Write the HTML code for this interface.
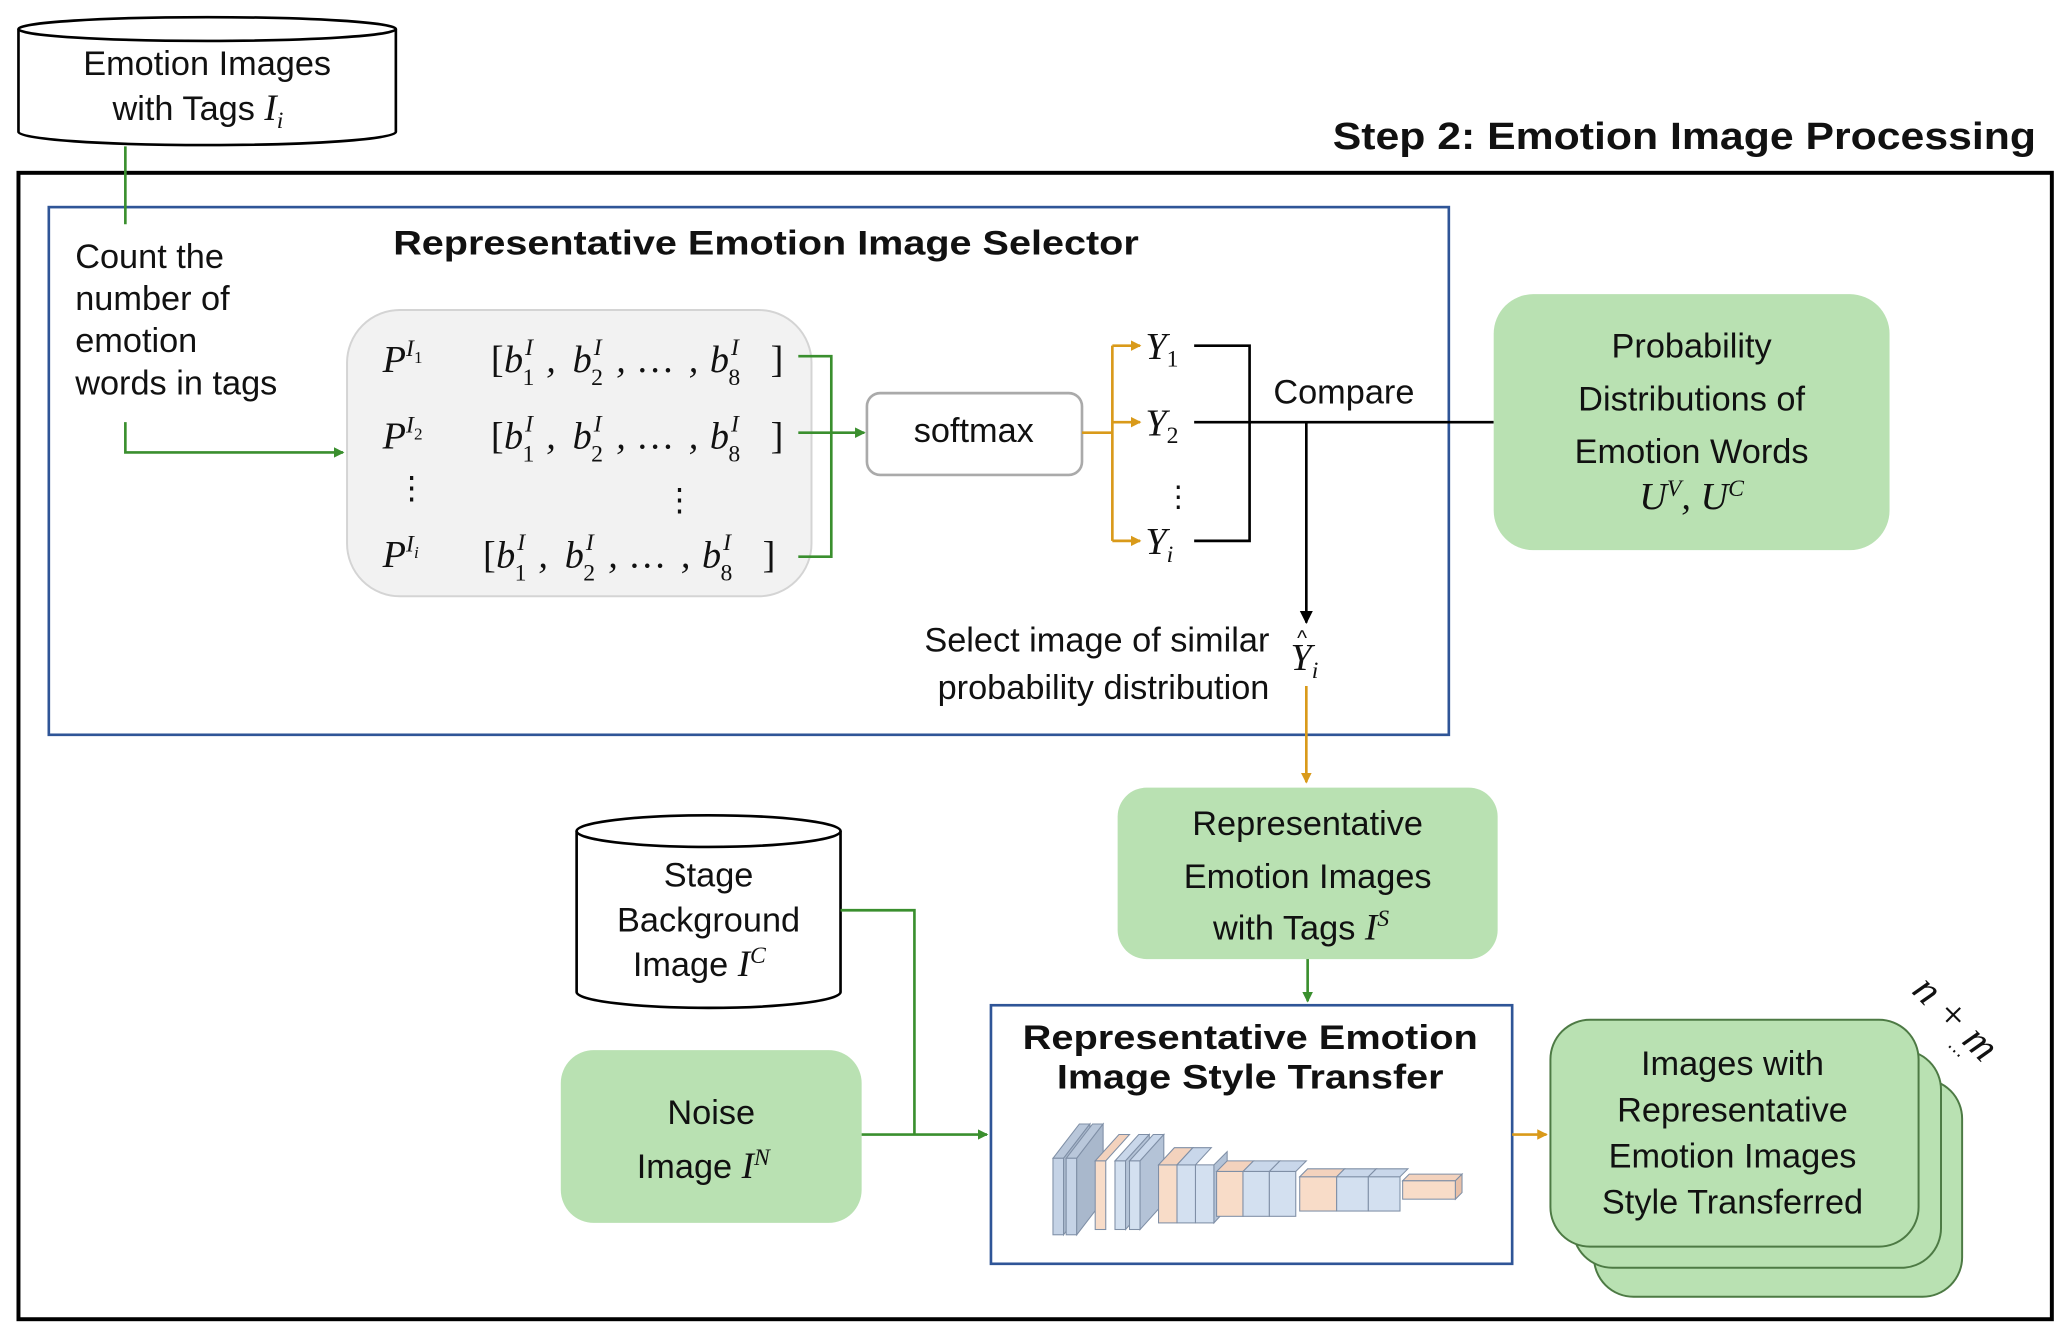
<!DOCTYPE html>
<html><head><meta charset="utf-8"><style>
html,body{margin:0;padding:0;background:#fff;}
svg{display:block;}
text{font-family:"Liberation Sans",sans-serif;fill:#111;}
.m{font-family:"Liberation Serif",serif;font-style:italic;}
.n{font-family:"Liberation Serif",serif;font-style:normal;}
</style></head><body>
<svg width="2069" height="1339" viewBox="0 0 1568 1015" preserveAspectRatio="none" xmlns="http://www.w3.org/2000/svg">
<defs>
<marker id="ag" markerWidth="8" markerHeight="8" refX="7" refY="4" orient="auto" markerUnits="userSpaceOnUse"><path d="M0,0 L8,4 L0,8 z" fill="#3a8f2e"/></marker>
<marker id="ao" markerWidth="8" markerHeight="8" refX="7" refY="4" orient="auto" markerUnits="userSpaceOnUse"><path d="M0,0 L8,4 L0,8 z" fill="#d99a1a"/></marker>
<marker id="ak" markerWidth="10" markerHeight="10" refX="9" refY="5" orient="auto" markerUnits="userSpaceOnUse"><path d="M0,0 L10,5 L0,10 z" fill="#000"/></marker>
<g id="vec">
<text class="n" x="0" y="0" font-size="29">[</text>
<text class="m" x="10" y="0" font-size="29">b</text>
<text class="m" x="26" y="-13" font-size="18">I</text>
<text class="n" x="24" y="10" font-size="18">1</text>
<text class="m" x="42" y="0" font-size="29">,</text>
<text class="m" x="62" y="0" font-size="29">b</text>
<text class="m" x="78" y="-13" font-size="18">I</text>
<text class="n" x="76" y="10" font-size="18">2</text>
<text class="m" x="95" y="0" font-size="29">,</text>
<text class="n" x="110" y="0" font-size="29">…</text>
<text class="m" x="150" y="0" font-size="29">,</text>
<text class="m" x="166" y="0" font-size="29">b</text>
<text class="m" x="182" y="-13" font-size="18">I</text>
<text class="n" x="180" y="10" font-size="18">8</text>
<text class="n" x="212" y="0" font-size="29">]</text>
</g>
</defs>

<!-- top cylinder -->
<path d="M14,22 L14,100 A143,10 0 0 0 300,100 L300,22" fill="#fff" stroke="#000" stroke-width="2"/>
<ellipse cx="157" cy="22" rx="143" ry="9" fill="#fff" stroke="#000" stroke-width="2"/>
<text x="157" y="57" font-size="26" text-anchor="middle">Emotion Images</text>
<text x="150" y="91" font-size="26" text-anchor="middle">with Tags <tspan class="m" font-size="28">I</tspan><tspan class="m" font-size="18" dy="6">i</tspan></text>

<text x="1010" y="113" font-size="29" font-weight="bold" textLength="533" lengthAdjust="spacingAndGlyphs">Step 2: Emotion Image Processing</text>

<rect x="14" y="131" width="1541" height="869" fill="none" stroke="#000" stroke-width="3"/>
<rect x="37" y="157" width="1061" height="400" fill="none" stroke="#2f5597" stroke-width="2"/>

<line x1="95" y1="111" x2="95" y2="170" stroke="#3a8f2e" stroke-width="2"/>
<text font-size="26"><tspan x="57" y="203">Count the</tspan><tspan x="57" y="235">number of</tspan><tspan x="57" y="267">emotion</tspan><tspan x="57" y="299">words in tags</tspan></text>
<path d="M95,320 L95,343 L260,343" fill="none" stroke="#3a8f2e" stroke-width="2" marker-end="url(#ag)"/>

<text x="298" y="193" font-size="26" font-weight="bold" textLength="565" lengthAdjust="spacingAndGlyphs">Representative Emotion Image Selector</text>

<rect x="263" y="235" width="352" height="217" rx="40" fill="#f2f2f2" stroke="#d4d4d4" stroke-width="1.5"/>
<text class="m" x="290" y="282" font-size="29">P<tspan font-size="18" dy="-12">I</tspan><tspan class="n" font-size="13" dy="5">1</tspan></text>
<text class="m" x="290" y="340" font-size="29">P<tspan font-size="18" dy="-12">I</tspan><tspan class="n" font-size="13" dy="5">2</tspan></text>
<text class="m" x="290" y="430" font-size="29">P<tspan font-size="18" dy="-12">I</tspan><tspan font-size="13" dy="5">i</tspan></text>
<use href="#vec" x="372" y="282"/>
<use href="#vec" x="372" y="340"/>
<use href="#vec" x="366" y="430"/>
<text x="300" y="378" font-size="24">⋮</text>
<text x="503" y="387" font-size="24">⋮</text>

<path d="M605,270 L630,270 L630,422 L605,422 M605,328 L630,328" fill="none" stroke="#3a8f2e" stroke-width="2"/>
<line x1="630" y1="328" x2="655" y2="328" stroke="#3a8f2e" stroke-width="2" marker-end="url(#ag)"/>

<rect x="657" y="298" width="163" height="62" rx="10" fill="#fff" stroke="#aaa" stroke-width="2"/>
<text x="738" y="335" font-size="26" text-anchor="middle">softmax</text>

<path d="M820,328 L843,328 M843,262 L843,410" fill="none" stroke="#d99a1a" stroke-width="2"/>
<line x1="843" y1="262" x2="864" y2="262" stroke="#d99a1a" stroke-width="2" marker-end="url(#ao)"/>
<line x1="843" y1="320" x2="864" y2="320" stroke="#d99a1a" stroke-width="2" marker-end="url(#ao)"/>
<line x1="843" y1="410" x2="864" y2="410" stroke="#d99a1a" stroke-width="2" marker-end="url(#ao)"/>
<text class="m" x="868" y="272" font-size="29">Y<tspan class="n" font-size="18" dy="6">1</tspan></text>
<text class="m" x="868" y="330" font-size="29">Y<tspan class="n" font-size="18" dy="6">2</tspan></text>
<text x="882" y="384" font-size="22">⋮</text>
<text class="m" x="868" y="420" font-size="29">Y<tspan font-size="18" dy="6">i</tspan></text>

<path d="M905,262 L947,262 L947,410 L905,410 M905,320 L1132,320" fill="none" stroke="#000" stroke-width="2"/>
<text x="965" y="306" font-size="26">Compare</text>
<line x1="990" y1="320" x2="990" y2="472" stroke="#000" stroke-width="2" marker-end="url(#ak)"/>
<text class="m" x="978" y="508" font-size="29">Y<tspan font-size="18" dy="6">i</tspan></text>
<text x="983" y="489" font-size="16">^</text>
<text x="962" y="494" font-size="26" text-anchor="end">Select image of similar</text>
<text x="962" y="530" font-size="26" text-anchor="end">probability distribution</text>
<line x1="990" y1="520" x2="990" y2="593" stroke="#d99a1a" stroke-width="2" marker-end="url(#ao)"/>

<rect x="1132" y="223" width="300" height="194" rx="30" fill="#b9e1b2"/>
<text font-size="26" text-anchor="middle"><tspan x="1282" y="271">Probability</tspan><tspan x="1282" y="311">Distributions of</tspan><tspan x="1282" y="351">Emotion Words</tspan></text>
<text class="m" x="1282" y="386" font-size="29" text-anchor="middle">U<tspan font-size="18" dy="-10">V</tspan><tspan dy="10">, U</tspan><tspan font-size="18" dy="-10">C</tspan></text>

<rect x="847" y="597" width="288" height="130" rx="22" fill="#b9e1b2"/>
<text font-size="26" text-anchor="middle"><tspan x="991" y="633">Representative</tspan><tspan x="991" y="673">Emotion Images</tspan><tspan x="986" y="712">with Tags <tspan class="m" font-size="28">I</tspan><tspan class="m" font-size="18" dy="-10">S</tspan></tspan></text>
<line x1="991" y1="727" x2="991" y2="759" stroke="#3a8f2e" stroke-width="2" marker-end="url(#ag)"/>

<rect x="751" y="762" width="395" height="196" fill="#fff" stroke="#2f5597" stroke-width="2"/>
<text x="775" y="795" font-size="26" font-weight="bold" textLength="345" lengthAdjust="spacingAndGlyphs">Representative Emotion</text>
<text x="801" y="825" font-size="26" font-weight="bold" textLength="293" lengthAdjust="spacingAndGlyphs">Image Style Transfer</text>

<!-- NN drawing -->
<g stroke="#7f8fa6" stroke-width="0.8">
<path d="M798,878 L818,852 L826,852 L806,878Z" fill="#b9c7da"/><rect x="798" y="878" width="8" height="58" fill="#c5d3e6"/><path d="M806,878 L826,852 L826,910 L806,936Z" fill="#a9b8cc"/>
<path d="M808,878 L828,852 L836,852 L816,878Z" fill="#b9c7da"/><rect x="808" y="878" width="8" height="58" fill="#c5d3e6"/><path d="M816,878 L836,852 L836,910 L816,936Z" fill="#a9b8cc"/>
<path d="M830,880 L848,860 L856,860 L838,880Z" fill="#f3d2bd"/><rect x="830" y="880" width="8" height="52" fill="#f8dcc8"/>
<path d="M845,880 L863,860 L871,860 L853,880Z" fill="#c9d7ea"/><rect x="845" y="880" width="8" height="52" fill="#d3e0f0"/><path d="M853,880 L871,860 L871,912 L853,932Z" fill="#b4c3d7"/>
<path d="M856,880 L874,860 L882,860 L864,880Z" fill="#c9d7ea"/><rect x="856" y="880" width="8" height="52" fill="#d3e0f0"/><path d="M864,880 L882,860 L882,912 L864,932Z" fill="#b4c3d7"/>
<rect x="878" y="883" width="14" height="44" fill="#f8dcc8"/><path d="M878,883 L890,870 L904,870 L892,883Z" fill="#f3d2bd"/>
<rect x="892" y="883" width="14" height="44" fill="#d3e0f0"/><path d="M892,883 L904,870 L918,870 L906,883Z" fill="#c9d7ea"/>
<rect x="906" y="883" width="14" height="44" fill="#d3e0f0"/><path d="M920,883 L930,873 L930,916 L920,927Z" fill="#b4c3d7"/>
<rect x="922" y="888" width="20" height="34" fill="#f8dcc8"/><path d="M922,888 L930,880 L950,880 L942,888Z" fill="#f3d2bd"/>
<rect x="942" y="888" width="20" height="34" fill="#d3e0f0"/><path d="M942,888 L950,880 L970,880 L962,888Z" fill="#c9d7ea"/>
<rect x="962" y="888" width="20" height="34" fill="#d3e0f0"/><path d="M962,888 L970,880 L990,880 L982,888Z" fill="#c9d7ea"/>
<rect x="985" y="892" width="28" height="26" fill="#f8dcc8"/><path d="M985,892 L991,886 L1019,886 L1013,892Z" fill="#f3d2bd"/>
<rect x="1013" y="892" width="24" height="26" fill="#d3e0f0"/><path d="M1013,892 L1019,886 L1043,886 L1037,892Z" fill="#c9d7ea"/>
<rect x="1037" y="892" width="24" height="26" fill="#d3e0f0"/><path d="M1037,892 L1043,886 L1067,886 L1061,892Z" fill="#c9d7ea"/>
<rect x="1063" y="895" width="40" height="14" fill="#f8dcc8"/><path d="M1063,895 L1068,890 L1108,890 L1103,895Z" fill="#f3d2bd"/><path d="M1103,895 L1108,890 L1108,904 L1103,909Z" fill="#e8c0a8"/>
</g>

<!-- stage cylinder -->
<path d="M437,630 L437,752 A100,12 0 0 0 637,752 L637,630" fill="#fff" stroke="#000" stroke-width="2"/>
<ellipse cx="537" cy="630" rx="100" ry="12" fill="#fff" stroke="#000" stroke-width="2"/>
<text font-size="26" text-anchor="middle"><tspan x="537" y="672">Stage</tspan><tspan x="537" y="706">Background</tspan><tspan x="530" y="740">Image <tspan class="m" font-size="28">I</tspan><tspan class="m" font-size="18" dy="-10">C</tspan></tspan></text>

<rect x="425" y="796" width="228" height="131" rx="25" fill="#b9e1b2"/>
<text font-size="26" text-anchor="middle"><tspan x="539" y="852">Noise</tspan><tspan x="533" y="893">Image <tspan class="m" font-size="28">I</tspan><tspan class="m" font-size="18" dy="-10">N</tspan></tspan></text>

<path d="M637,690 L693,690 L693,860" fill="none" stroke="#3a8f2e" stroke-width="2"/>
<line x1="653" y1="860" x2="748" y2="860" stroke="#3a8f2e" stroke-width="2" marker-end="url(#ag)"/>

<line x1="1146" y1="860" x2="1172" y2="860" stroke="#d99a1a" stroke-width="2" marker-end="url(#ao)"/>

<rect x="1208" y="818" width="279" height="165" rx="30" fill="#b9e1b2" stroke="#4d7a44" stroke-width="1.5"/>
<rect x="1192" y="796" width="279" height="165" rx="30" fill="#b9e1b2" stroke="#4d7a44" stroke-width="1.5"/>
<rect x="1175" y="773" width="279" height="172" rx="30" fill="#b9e1b2" stroke="#4d7a44" stroke-width="1.5"/>
<text font-size="26" text-anchor="middle"><tspan x="1313" y="815">Images with</tspan><tspan x="1313" y="850">Representative</tspan><tspan x="1313" y="885">Emotion Images</tspan><tspan x="1313" y="920">Style Transferred</tspan></text>

<text class="m" x="1448" y="752" font-size="32" transform="rotate(45 1448 752)">n + m</text>
<text x="1473" y="795" font-size="14" transform="rotate(45 1473 795)">⋯</text>
</svg>
</body></html>
